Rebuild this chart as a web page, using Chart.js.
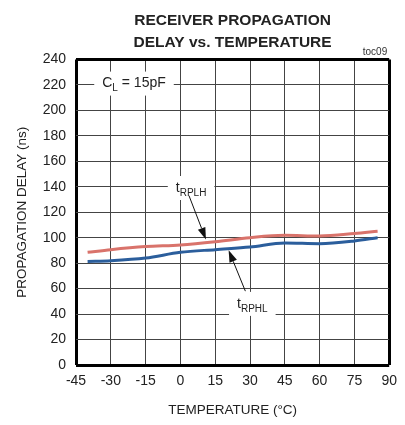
<!DOCTYPE html>
<html>
<head>
<meta charset="utf-8">
<script src="https://cdn.jsdelivr.net/npm/chart.js@4.4.0/dist/chart.umd.min.js"></script>
<style>
  html, body { margin: 0; padding: 0; background: #fff; }
  #wrap { width: 405px; height: 425px; }
</style>
</head>
<body>
<div id="wrap"><canvas id="chartDelay"></canvas></div>
<script>
// Dados
const temps = [-40, -30, -15, 0, 15, 30, 45, 60, 75, 85];
const tRPLH = [88.5, 90.6, 93, 94.3, 96.8, 100, 101.8, 101.3, 103.2, 105];
const tRPHL = [81.3, 81.9, 84, 88.5, 90.6, 92.6, 95.8, 95.3, 97.4, 100];
const xTicks = [-45, -30, -15, 0, 15, 30, 45, 60, 75, 90];
const yTicks = [0, 20, 40, 60, 80, 100, 120, 140, 160, 180, 200, 220, 240];

const FONT = "'Liberation Sans', Arial, sans-serif";

const toPts = vals => temps.map((t, i) => ({ x: t, y: vals[i] }));

// Rótulos, caixas brancas e setas
const notes = {
    id: 'notes',
    afterDatasetsDraw(chart) {
        const { ctx, scales: { x, y } } = chart;
        ctx.save();

        function label(main, sub, tx, ty, extra) {
            const px = x.getPixelForValue(tx), py = y.getPixelForValue(ty);
            ctx.font = '14px ' + FONT;
            const wMain = ctx.measureText(main).width;
            ctx.font = '10px ' + FONT;
            const wSub = ctx.measureText(sub).width;
            ctx.font = '14px ' + FONT;
            const wRest = extra ? ctx.measureText(extra).width : 0;
            const w = wMain + wSub + wRest;
            const padX = 8, padY = 10;
            ctx.fillStyle = '#fff';
            ctx.fillRect(px - w / 2 - padX, py - padY - 2, w + padX * 2, padY * 2 + 4);
            ctx.fillStyle = '#222';
            ctx.textBaseline = 'middle';
            ctx.textAlign = 'left';
            let cx = px - w / 2;
            ctx.font = '14px ' + FONT;
            ctx.fillText(main, cx, py);
            cx += wMain;
            ctx.font = '10px ' + FONT;
            ctx.fillText(sub, cx, py + 5);
            cx += wSub;
            if (extra) {
                ctx.font = '14px ' + FONT;
                ctx.fillText(extra, cx, py);
            }
        }

        function arrow(x0, y0, x1, y1) {
            const ax = x.getPixelForValue(x0), ay = y.getPixelForValue(y0);
            const bx = x.getPixelForValue(x1), by = y.getPixelForValue(y1);
            const ang = Math.atan2(by - ay, bx - ax);
            const len = 12, half = 4;
            ctx.strokeStyle = '#111';
            ctx.fillStyle = '#111';
            ctx.lineWidth = 1;
            ctx.beginPath();
            ctx.moveTo(ax, ay);
            ctx.lineTo(bx - Math.cos(ang) * len, by - Math.sin(ang) * len);
            ctx.stroke();
            ctx.beginPath();
            ctx.moveTo(bx, by);
            ctx.lineTo(bx - Math.cos(ang) * len - Math.sin(ang) * half, by - Math.sin(ang) * len + Math.cos(ang) * half);
            ctx.lineTo(bx - Math.cos(ang) * len + Math.sin(ang) * half, by - Math.sin(ang) * len - Math.cos(ang) * half);
            ctx.closePath();
            ctx.fill();
        }

        label('C', 'L', -20, 221, ' = 15pF');
        label('t', 'RPLH', 4.6, 139);
        label('t', 'RPHL', 31, 48);
        arrow(3.7, 133, 11, 98.5);
        arrow(28, 58, 20.8, 90.2);

        // identificação no canto
        ctx.font = '10px ' + FONT;
        ctx.fillStyle = '#333';
        ctx.textAlign = 'right';
        ctx.textBaseline = 'middle';
        ctx.fillText('toc09', chart.chartArea.right - 2, chart.chartArea.top - 7);
        ctx.restore();
    }
};

const edgeX = v => v === xTicks[0] || v === xTicks[xTicks.length - 1];
const edgeY = v => v === yTicks[0] || v === yTicks[yTicks.length - 1];

const chartDelay = new Chart(document.getElementById('chartDelay').getContext('2d'), {
    type: 'line',
    data: {
        datasets: [{
            label: 'tRPLH',
            data: toPts(tRPLH),
            borderColor: '#d9736b',
            borderWidth: 3,
            pointRadius: 0,
            cubicInterpolationMode: 'monotone'
        }, {
            label: 'tRPHL',
            data: toPts(tRPHL),
            borderColor: '#2b5e9c',
            borderWidth: 3,
            pointRadius: 0,
            cubicInterpolationMode: 'monotone'
        }]
    },
    options: {
        responsive: true,
        maintainAspectRatio: false,
        animation: false,
        layout: { padding: { right: 13 } },
        plugins: {
            legend: { display: false },
            tooltip: { enabled: false },
            title: {
                display: true,
                fullSize: false,
                text: ['RECEIVER PROPAGATION', 'DELAY vs. TEMPERATURE'],
                color: '#222',
                font: { family: FONT, size: 15.5, weight: 'bold', lineHeight: 1.4 },
                padding: { top: 10, bottom: 6 }
            }
        },
        scales: {
            x: {
                type: 'linear',
                min: -45,
                max: 90,
                afterBuildTicks: s => { s.ticks = xTicks.map(v => ({ value: v })); },
                afterFit: s => { s.height = 60; },
                ticks: { color: '#222', font: { family: FONT, size: 14 }, padding: 8, maxRotation: 0 },
                grid: {
                    drawTicks: false,
                    color: c => edgeX(c.tick.value) ? '#000' : '#444',
                    lineWidth: c => edgeX(c.tick.value) ? 3 : 1
                },
                border: { display: false },
                title: {
                    display: true,
                    text: 'TEMPERATURE (°C)',
                    color: '#222',
                    font: { family: FONT, size: 13.5 },
                    padding: { top: 0, bottom: 7 }
                }
            },
            y: {
                min: 0,
                max: 240,
                afterBuildTicks: s => { s.ticks = yTicks.map(v => ({ value: v })); },
                afterFit: s => { s.width = 76; },
                ticks: { color: '#222', font: { family: FONT, size: 14 }, padding: 10 },
                grid: {
                    drawTicks: false,
                    color: c => edgeY(c.tick.value) ? '#000' : '#444',
                    lineWidth: c => edgeY(c.tick.value) ? 3 : 1
                },
                border: { display: false },
                title: {
                    display: true,
                    text: 'PROPAGATION DELAY (ns)',
                    color: '#222',
                    font: { family: FONT, size: 13.5 },
                    padding: { top: 14, bottom: 0 }
                }
            }
        }
    },
    plugins: [notes]
});
</script>
</body>
</html>
